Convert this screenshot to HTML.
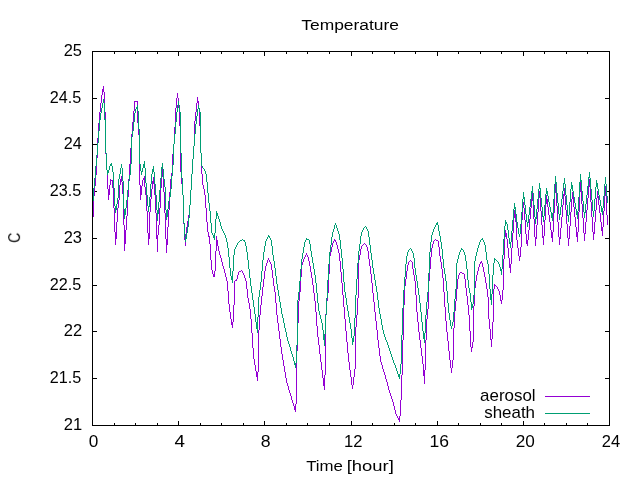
<!DOCTYPE html>
<html><head><meta charset="utf-8"><title>Temperature</title>
<style>
html,body{margin:0;padding:0;background:#fff;}
svg{display:block}
text{font-family:"Liberation Sans",sans-serif;font-size:16px;fill:#000}
</style></head><body>
<svg width="640" height="480" viewBox="0 0 640 480">
<rect width="640" height="480" fill="#fff"/>
<g fill="none" stroke="#000" stroke-width="1" shape-rendering="crispEdges">
<path d="M93,425.5h4M609,425.5h-4"/><path d="M93,378.5h4M609,378.5h-4"/><path d="M93,331.5h4M609,331.5h-4"/><path d="M93,285.5h4M609,285.5h-4"/><path d="M93,238.5h4M609,238.5h-4"/><path d="M93,191.5h4M609,191.5h-4"/><path d="M93,144.5h4M609,144.5h-4"/><path d="M93,98.5h4M609,98.5h-4"/><path d="M93,51.5h4M609,51.5h-4"/><path d="M92.5,425v-4M92.5,52v4"/><path d="M114.5,425v-2M114.5,52v2"/><path d="M135.5,425v-2M135.5,52v2"/><path d="M157.5,425v-2M157.5,52v2"/><path d="M178.5,425v-4M178.5,52v4"/><path d="M200.5,425v-2M200.5,52v2"/><path d="M221.5,425v-2M221.5,52v2"/><path d="M243.5,425v-2M243.5,52v2"/><path d="M264.5,425v-4M264.5,52v4"/><path d="M286.5,425v-2M286.5,52v2"/><path d="M307.5,425v-2M307.5,52v2"/><path d="M329.5,425v-2M329.5,52v2"/><path d="M351.5,425v-4M351.5,52v4"/><path d="M372.5,425v-2M372.5,52v2"/><path d="M394.5,425v-2M394.5,52v2"/><path d="M415.5,425v-2M415.5,52v2"/><path d="M437.5,425v-4M437.5,52v4"/><path d="M458.5,425v-2M458.5,52v2"/><path d="M480.5,425v-2M480.5,52v2"/><path d="M501.5,425v-2M501.5,52v2"/><path d="M523.5,425v-4M523.5,52v4"/><path d="M544.5,425v-2M544.5,52v2"/><path d="M566.5,425v-2M566.5,52v2"/><path d="M587.5,425v-2M587.5,52v2"/><path d="M609.5,425v-4M609.5,52v4"/>
<rect x="92.5" y="51.5" width="517.0" height="374.0"/>
</g>
<g fill="none" stroke-width="1" shape-rendering="crispEdges" stroke-linejoin="miter">
<path stroke="#9400d3" d="M93.5,196v21M94.5,186v10M95.5,175v11M96.5,158v17M97.5,138v20M98.5,123v15M99.5,112v11M100.5,103v9M101.5,95v8M102.5,89v6M103.5,86v6M104.5,92v20M105.5,112v42M106.5,154v16M107.5,170v19M108.5,189v11M109.5,185v10M110.5,179v6M111.5,180v1M112.5,180v8M113.5,188v20M114.5,208v24M115.5,232v13M116.5,222v17M117.5,208v14M118.5,200v8M119.5,185v15M120.5,179v6M121.5,176v6M122.5,182v12M123.5,194v31M124.5,225v26M125.5,230v14M126.5,216v14M127.5,197v19M128.5,179v18M129.5,164v15M130.5,148v16M131.5,134v14M132.5,122v12M133.5,111v11M134.5,101v10M135.5,101v1M136.5,101v1M137.5,101v22M138.5,123v12M139.5,135v50M140.5,185v15M141.5,186v9M142.5,180v6M143.5,178v2M144.5,176v11M145.5,187v8M146.5,195v16M147.5,211v22M148.5,233v12M149.5,212v27M150.5,199v13M151.5,189v10M152.5,181v8M153.5,177v7M154.5,184v11M155.5,195v18M156.5,213v26M157.5,235v17M158.5,225v10M159.5,208v17M160.5,188v20M161.5,175v13M162.5,169v8M163.5,177v15M164.5,192v21M165.5,213v26M166.5,239v14M167.5,227v18M168.5,210v17M169.5,192v18M170.5,179v13M171.5,173v6M172.5,154v19M173.5,144v10M174.5,127v17M175.5,108v19M176.5,98v10M177.5,93v5M178.5,98v10M179.5,108v18M180.5,126v46M181.5,172v12M182.5,184v11M183.5,195v29M184.5,224v16M185.5,234v12M186.5,227v7M187.5,221v6M188.5,215v6M189.5,205v10M190.5,190v15M191.5,174v16M192.5,159v15M193.5,146v13M194.5,121v25M195.5,112v9M196.5,103v9M197.5,97v6M198.5,101v8M199.5,109v17M200.5,126v27M201.5,153v21M202.5,174v11M203.5,185v4M204.5,189v6M205.5,195v13M206.5,208v14M207.5,222v10M208.5,232v5M209.5,236v8M210.5,244v16M211.5,260v10M212.5,270v4M213.5,274v3M214.5,271v6M215.5,251v20M216.5,236v15M217.5,240v6M218.5,246v5M219.5,251v4M220.5,255v3M221.5,258v4M222.5,262v4M223.5,266v3M224.5,269v4M225.5,273v4M226.5,277v4M227.5,281v10M228.5,291v13M229.5,304v8M230.5,312v7M231.5,319v6M232.5,322v6M233.5,305v17M234.5,281v24M235.5,280v1M236.5,279v2M237.5,275v4M238.5,272v3M239.5,271v1M240.5,271v1M241.5,270v1M242.5,271v2M243.5,273v2M244.5,275v3M245.5,278v3M246.5,281v8M247.5,289v9M248.5,298v5M249.5,303v6M250.5,309v10M251.5,319v14M252.5,333v15M253.5,348v11M254.5,359v6M255.5,365v6M256.5,371v6M257.5,372v9M258.5,330v42M259.5,315v15M260.5,305v10M261.5,296v9M262.5,287v9M263.5,279v8M264.5,271v8M265.5,266v5M266.5,263v3M267.5,260v3M268.5,258v2M269.5,260v2M270.5,262v2M271.5,264v6M272.5,270v8M273.5,278v8M274.5,286v6M275.5,292v11M276.5,303v12M277.5,315v8M278.5,323v8M279.5,331v8M280.5,339v8M281.5,347v7M282.5,354v6M283.5,360v6M284.5,366v6M285.5,372v6M286.5,378v5M287.5,383v3M288.5,386v4M289.5,390v3M290.5,393v3M291.5,396v4M292.5,400v3M293.5,403v3M294.5,406v4M295.5,404v8M296.5,351v53M297.5,323v28M298.5,301v22M299.5,292v9M300.5,277v15M301.5,265v12M302.5,262v3M303.5,259v3M304.5,257v2M305.5,255v2M306.5,253v2M307.5,255v2M308.5,257v4M309.5,261v5M310.5,266v6M311.5,272v6M312.5,278v7M313.5,285v8M314.5,293v8M315.5,301v11M316.5,312v14M317.5,326v11M318.5,337v8M319.5,345v9M320.5,354v8M321.5,362v8M322.5,370v8M323.5,378v8M324.5,375v15M325.5,314v61M326.5,301v13M327.5,293v8M328.5,274v19M329.5,256v18M330.5,252v4M331.5,247v5M332.5,243v4M333.5,241v2M334.5,239v2M335.5,240v2M336.5,242v3M337.5,245v4M338.5,249v4M339.5,253v8M340.5,261v11M341.5,272v11M342.5,283v12M343.5,295v12M344.5,307v12M345.5,319v12M346.5,331v11M347.5,342v11M348.5,353v9M349.5,362v8M350.5,370v7M351.5,377v8M352.5,385v4M353.5,377v8M354.5,369v8M355.5,327v42M356.5,315v12M357.5,298v17M358.5,260v38M359.5,255v5M360.5,249v6M361.5,246v3M362.5,245v1M363.5,244v1M364.5,243v1M365.5,244v1M366.5,245v2M367.5,247v4M368.5,251v8M369.5,259v7M370.5,266v8M371.5,274v9M372.5,283v10M373.5,293v9M374.5,302v10M375.5,312v9M376.5,321v9M377.5,330v10M378.5,340v8M379.5,348v8M380.5,356v6M381.5,362v3M382.5,365v4M383.5,369v3M384.5,372v3M385.5,375v4M386.5,379v3M387.5,382v4M388.5,386v4M389.5,390v3M390.5,393v3M391.5,396v3M392.5,399v3M393.5,402v4M394.5,406v4M395.5,410v4M396.5,414v2M397.5,416v2M398.5,418v2M399.5,416v6M400.5,400v16M401.5,375v25M402.5,340v35M403.5,305v35M404.5,286v19M405.5,279v7M406.5,271v8M407.5,265v6M408.5,262v3M409.5,261v1M410.5,260v1M411.5,261v1M412.5,262v7M413.5,269v6M414.5,275v6M415.5,281v14M416.5,295v17M417.5,312v10M418.5,322v10M419.5,332v8M420.5,340v8M421.5,348v8M422.5,356v8M423.5,364v12M424.5,370v14M425.5,340v30M426.5,319v21M427.5,309v10M428.5,281v28M429.5,269v12M430.5,257v12M431.5,248v9M432.5,244v4M433.5,241v3M434.5,240v1M435.5,239v1M436.5,240v1M437.5,240v1M438.5,241v6M439.5,247v9M440.5,256v6M441.5,262v7M442.5,269v9M443.5,278v14M444.5,292v15M445.5,307v14M446.5,321v11M447.5,332v9M448.5,341v10M449.5,351v9M450.5,360v8M451.5,368v5M452.5,360v8M453.5,328v32M454.5,311v17M455.5,301v10M456.5,289v12M457.5,279v10M458.5,275v4M459.5,273v2M460.5,272v1M461.5,272v1M462.5,273v1M463.5,273v1M464.5,274v5M465.5,279v9M466.5,288v8M467.5,296v9M468.5,305v10M469.5,315v16M470.5,331v16M471.5,347v5M472.5,342v6M473.5,306v36M474.5,288v18M475.5,281v7M476.5,275v6M477.5,271v4M478.5,267v4M479.5,264v3M480.5,262v2M481.5,261v2M482.5,263v4M483.5,267v5M484.5,272v5M485.5,277v6M486.5,283v6M487.5,289v8M488.5,297v22M489.5,319v10M490.5,329v11M491.5,339v8M492.5,322v17M493.5,289v33M494.5,284v5M495.5,285v1M496.5,286v1M497.5,287v2M498.5,289v2M499.5,291v4M500.5,295v6M501.5,300v4M502.5,290v10M503.5,259v31M504.5,237v22M505.5,230v7M506.5,233v6M507.5,239v9M508.5,248v10M509.5,258v10M510.5,264v9M511.5,248v16M512.5,233v15M513.5,218v15M514.5,210v8M515.5,214v8M516.5,222v18M517.5,240v8M518.5,248v8M519.5,256v5M520.5,247v10M521.5,220v27M522.5,208v12M523.5,202v6M524.5,208v12M525.5,220v14M526.5,234v10M527.5,240v6M528.5,230v10M529.5,219v11M530.5,208v11M531.5,198v10M532.5,192v9M533.5,201v18M534.5,219v18M535.5,237v9M536.5,225v14M537.5,212v13M538.5,198v14M539.5,191v7M540.5,198v13M541.5,211v14M542.5,225v13M543.5,236v9M544.5,220v16M545.5,204v16M546.5,195v9M547.5,199v8M548.5,207v8M549.5,215v7M550.5,222v8M551.5,230v8M552.5,232v10M553.5,213v19M554.5,193v20M555.5,183v10M556.5,191v15M557.5,206v16M558.5,222v15M559.5,237v8M560.5,228v11M561.5,217v11M562.5,205v12M563.5,194v11M564.5,188v8M565.5,196v14M566.5,210v14M567.5,224v14M568.5,238v8M569.5,226v13M570.5,212v14M571.5,199v13M572.5,192v7M573.5,197v10M574.5,207v10M575.5,217v10M576.5,227v10M577.5,232v10M578.5,212v20M579.5,192v20M580.5,181v11M581.5,189v15M582.5,204v14M583.5,218v15M584.5,233v8M585.5,222v12M586.5,210v12M587.5,198v12M588.5,186v12M589.5,179v8M590.5,187v15M591.5,202v15M592.5,217v15M593.5,232v8M594.5,222v12M595.5,210v12M596.5,198v12M597.5,191v7M598.5,196v9M599.5,205v8M600.5,213v9M601.5,222v9M602.5,227v9M603.5,211v16M604.5,195v16M605.5,186v10M606.5,196v19M607.5,215v10"/>
<path stroke="#009e73" d="M93.5,188v13M94.5,178v10M95.5,166v12M96.5,155v11M97.5,143v12M98.5,131v12M99.5,120v11M100.5,113v7M101.5,108v5M102.5,103v5M103.5,99v4M104.5,103v17M105.5,119v34M106.5,153v17M107.5,170v5M108.5,170v3M109.5,166v4M110.5,164v2M111.5,163v3M112.5,166v6M113.5,172v16M114.5,188v18M115.5,206v7M116.5,204v6M117.5,198v6M118.5,179v19M119.5,174v5M120.5,168v6M121.5,164v4M122.5,168v13M123.5,181v28M124.5,209v10M125.5,208v7M126.5,200v8M127.5,190v10M128.5,181v9M129.5,175v6M130.5,164v11M131.5,137v27M132.5,131v6M133.5,122v9M134.5,113v9M135.5,109v4M136.5,107v2M137.5,105v6M138.5,111v18M139.5,129v35M140.5,164v7M141.5,171v4M142.5,168v4M143.5,164v4M144.5,161v7M145.5,168v15M146.5,183v12M147.5,195v11M148.5,206v6M149.5,197v10M150.5,184v13M151.5,174v10M152.5,169v5M153.5,166v6M154.5,172v12M155.5,184v11M156.5,195v15M157.5,210v11M158.5,202v12M159.5,190v12M160.5,178v12M161.5,167v11M162.5,163v6M163.5,169v10M164.5,179v8M165.5,187v23M166.5,210v10M167.5,209v8M168.5,201v8M169.5,197v4M170.5,189v8M171.5,176v13M172.5,165v11M173.5,144v21M174.5,134v10M175.5,122v12M176.5,112v10M177.5,105v7M178.5,101v4M179.5,105v7M180.5,112v41M181.5,153v25M182.5,178v17M183.5,195v28M184.5,223v14M185.5,237v5M186.5,233v6M187.5,227v6M188.5,218v9M189.5,205v13M190.5,190v15M191.5,174v16M192.5,159v15M193.5,146v13M194.5,134v12M195.5,124v10M196.5,116v8M197.5,109v7M198.5,105v4M199.5,108v4M200.5,112v41M201.5,153v13M202.5,166v2M203.5,168v1M204.5,169v2M205.5,171v3M206.5,174v8M207.5,182v11M208.5,193v10M209.5,203v8M210.5,211v12M211.5,223v10M212.5,233v2M213.5,235v3M214.5,233v7M215.5,219v14M216.5,211v8M217.5,213v3M218.5,216v3M219.5,219v3M220.5,222v4M221.5,226v3M222.5,229v2M223.5,231v2M224.5,233v2M225.5,235v3M226.5,238v4M227.5,242v6M228.5,248v9M229.5,257v11M230.5,268v8M231.5,276v4M232.5,271v12M233.5,255v16M234.5,249v6M235.5,247v2M236.5,245v2M237.5,243v2M238.5,242v1M239.5,241v1M240.5,240v1M241.5,240v1M242.5,239v1M243.5,240v1M244.5,240v2M245.5,242v4M246.5,246v6M247.5,252v8M248.5,260v9M249.5,269v9M250.5,278v8M251.5,286v7M252.5,293v7M253.5,300v7M254.5,307v7M255.5,314v8M256.5,322v7M257.5,317v16M258.5,297v20M259.5,290v7M260.5,282v8M261.5,271v11M262.5,260v11M263.5,252v8M264.5,246v6M265.5,241v5M266.5,239v2M267.5,237v2M268.5,235v2M269.5,236v2M270.5,238v2M271.5,240v6M272.5,246v9M273.5,255v6M274.5,261v7M275.5,268v8M276.5,276v8M277.5,284v6M278.5,290v6M279.5,296v6M280.5,302v6M281.5,308v6M282.5,314v4M283.5,318v5M284.5,323v5M285.5,328v4M286.5,332v5M287.5,337v4M288.5,341v3M289.5,344v3M290.5,347v4M291.5,351v3M292.5,354v3M293.5,357v4M294.5,361v4M295.5,363v5M296.5,345v18M297.5,300v45M298.5,292v8M299.5,281v11M300.5,269v12M301.5,259v10M302.5,253v6M303.5,247v6M304.5,242v5M305.5,240v2M306.5,238v2M307.5,239v1M308.5,239v1M309.5,240v4M310.5,244v7M311.5,251v6M312.5,257v6M313.5,263v6M314.5,269v6M315.5,275v8M316.5,283v10M317.5,293v10M318.5,303v8M319.5,311v4M320.5,315v4M321.5,319v4M322.5,323v7M323.5,330v10M324.5,334v12M325.5,315v19M326.5,298v17M327.5,280v18M328.5,264v16M329.5,252v12M330.5,245v7M331.5,237v8M332.5,232v5M333.5,229v3M334.5,225v4M335.5,223v2M336.5,225v3M337.5,228v3M338.5,231v3M339.5,234v6M340.5,240v9M341.5,249v9M342.5,258v11M343.5,269v13M344.5,282v10M345.5,292v6M346.5,298v7M347.5,305v6M348.5,311v6M349.5,317v6M350.5,323v6M351.5,329v9M352.5,338v7M353.5,336v6M354.5,318v18M355.5,295v23M356.5,279v16M357.5,263v16M358.5,251v12M359.5,244v7M360.5,236v8M361.5,232v4M362.5,230v2M363.5,228v2M364.5,227v1M365.5,226v1M366.5,227v2M367.5,229v2M368.5,231v6M369.5,237v8M370.5,245v8M371.5,253v7M372.5,260v8M373.5,268v6M374.5,274v6M375.5,280v6M376.5,286v6M377.5,292v8M378.5,300v8M379.5,308v6M380.5,314v5M381.5,319v6M382.5,325v5M383.5,330v4M384.5,334v3M385.5,337v3M386.5,340v2M387.5,342v3M388.5,345v3M389.5,348v3M390.5,351v3M391.5,354v3M392.5,357v3M393.5,360v3M394.5,363v2M395.5,365v3M396.5,368v3M397.5,371v3M398.5,374v3M399.5,374v5M400.5,364v10M401.5,335v29M402.5,308v27M403.5,290v18M404.5,277v13M405.5,264v13M406.5,256v8M407.5,252v4M408.5,250v2M409.5,249v1M410.5,248v1M411.5,249v2M412.5,251v2M413.5,253v5M414.5,258v10M415.5,268v7M416.5,275v6M417.5,281v7M418.5,288v7M419.5,295v8M420.5,303v9M421.5,312v10M422.5,322v9M423.5,331v8M424.5,333v10M425.5,315v18M426.5,302v13M427.5,292v10M428.5,273v19M429.5,252v21M430.5,242v10M431.5,235v7M432.5,232v3M433.5,229v3M434.5,227v2M435.5,225v2M436.5,223v2M437.5,222v3M438.5,225v6M439.5,231v5M440.5,236v6M441.5,242v7M442.5,249v10M443.5,259v9M444.5,268v6M445.5,274v7M446.5,281v10M447.5,291v12M448.5,303v10M449.5,313v7M450.5,320v6M451.5,326v3M452.5,322v4M453.5,312v10M454.5,299v13M455.5,289v10M456.5,263v26M457.5,259v4M458.5,255v4M459.5,252v3M460.5,250v2M461.5,248v2M462.5,249v1M463.5,250v2M464.5,252v3M465.5,255v6M466.5,261v8M467.5,269v11M468.5,280v8M469.5,288v5M470.5,293v9M471.5,302v8M472.5,304v4M473.5,295v9M474.5,261v34M475.5,256v5M476.5,252v4M477.5,248v4M478.5,245v3M479.5,242v3M480.5,240v2M481.5,239v1M482.5,238v2M483.5,240v2M484.5,242v3M485.5,245v7M486.5,252v8M487.5,260v4M488.5,264v10M489.5,274v15M490.5,289v11M491.5,294v11M492.5,275v19M493.5,263v12M494.5,258v5M495.5,259v1M496.5,260v1M497.5,261v1M498.5,262v2M499.5,264v3M500.5,267v4M501.5,269v6M502.5,255v14M503.5,239v16M504.5,226v13M505.5,220v6M506.5,222v2M507.5,224v6M508.5,230v8M509.5,238v6M510.5,242v6M511.5,231v11M512.5,220v11M513.5,209v11M514.5,203v6M515.5,207v7M516.5,214v8M517.5,222v6M518.5,228v6M519.5,234v3M520.5,224v10M521.5,212v12M522.5,199v13M523.5,192v7M524.5,197v8M525.5,205v9M526.5,214v8M527.5,222v5M528.5,215v8M529.5,207v8M530.5,199v8M531.5,191v8M532.5,186v7M533.5,193v12M534.5,205v12M535.5,217v7M536.5,209v10M537.5,199v10M538.5,189v10M539.5,183v6M540.5,188v10M541.5,198v9M542.5,207v10M543.5,216v6M544.5,205v11M545.5,194v11M546.5,188v6M547.5,191v5M548.5,196v6M549.5,202v5M550.5,207v5M551.5,212v6M552.5,213v8M553.5,199v14M554.5,184v15M555.5,176v8M556.5,182v11M557.5,193v10M558.5,203v11M559.5,214v6M560.5,207v8M561.5,199v8M562.5,191v8M563.5,183v8M564.5,178v6M565.5,184v11M566.5,195v10M567.5,205v11M568.5,215v7M569.5,202v13M570.5,189v13M571.5,182v7M572.5,185v6M573.5,191v6M574.5,197v6M575.5,203v6M576.5,209v6M577.5,211v8M578.5,197v14M579.5,182v15M580.5,174v8M581.5,180v11M582.5,191v10M583.5,201v11M584.5,212v6M585.5,204v9M586.5,195v9M587.5,186v9M588.5,177v9M589.5,172v6M590.5,178v11M591.5,189v11M592.5,200v11M593.5,211v6M594.5,199v12M595.5,187v12M596.5,180v7M597.5,183v6M598.5,189v6M599.5,195v5M600.5,200v6M601.5,206v6M602.5,208v7M603.5,196v12M604.5,184v12M605.5,177v7M606.5,184v12M607.5,196v7"/>
<path stroke="#9400d3" d="M545,396.5h45"/>
<path stroke="#009e73" d="M545,413.5h45"/>
</g>
<g opacity="0.999">
<text transform="translate(63.72,429.95) scale(1.0338,1)">21</text><text transform="translate(49.74,382.95) scale(1.0118,1)">21.5</text><text transform="translate(63.72,335.95) scale(1.0338,1)">22</text><text transform="translate(49.74,289.95) scale(1.0118,1)">22.5</text><text transform="translate(63.73,242.95) scale(1.0260,1)">23</text><text transform="translate(49.74,195.95) scale(1.0118,1)">23.5</text><text transform="translate(63.74,148.95) scale(1.0105,1)">24</text><text transform="translate(49.74,102.95) scale(1.0118,1)">24.5</text><text transform="translate(63.73,55.95) scale(1.0260,1)">25</text><text transform="translate(88.83,446.80) scale(1.0754,1)">0</text><text transform="translate(174.46,446.80) scale(1.1750,1)">4</text><text transform="translate(260.67,446.80) scale(1.1067,1)">8</text><text transform="translate(343.95,446.80) scale(1.0381,1)">12</text><text transform="translate(429.43,446.80) scale(1.0961,1)">16</text><text transform="translate(515.79,446.80) scale(1.0748,1)">20</text><text transform="translate(601.82,446.80) scale(1.0346,1)">24</text><text transform="translate(301.29,30.30) scale(1.1236,1)" style="font-size:15.5px">Temperature</text><text transform="translate(306.21,471.40) scale(1.0848,1)" style="font-size:15.5px">Time</text><text transform="translate(346.70,471.40) scale(1.1893,1)" style="font-size:15.5px">[hour]</text><text transform="translate(480.04,401.00) scale(1.0601,1)">aerosol</text><text transform="translate(484.17,417.60) scale(1.0602,1)">sheath</text><text transform="translate(20.10,242.77) rotate(-90) scale(0.8800,1)">C</text>
</g>
</svg>
</body></html>
